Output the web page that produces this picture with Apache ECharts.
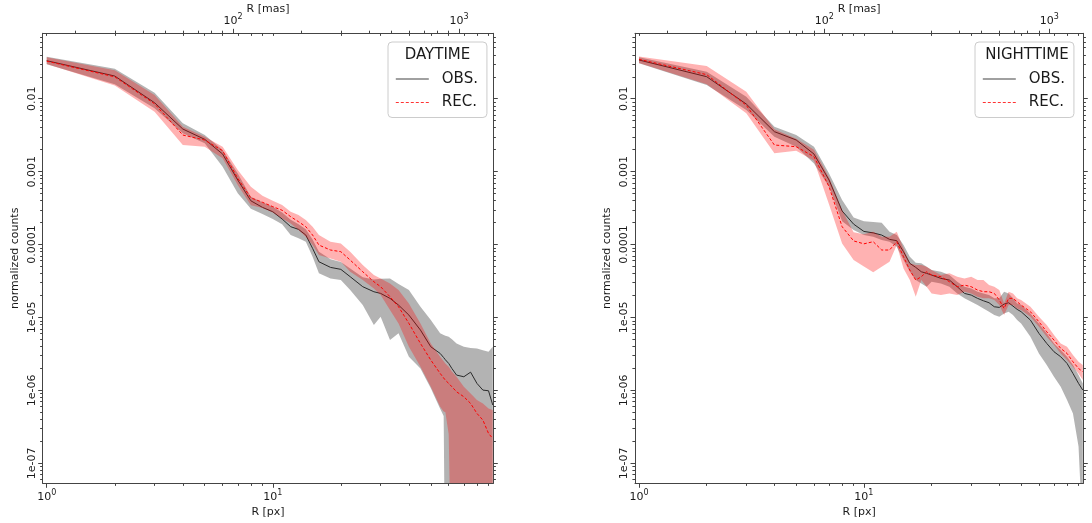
<!DOCTYPE html>
<html><head><meta charset="utf-8">
<script src="https://cdn.jsdelivr.net/npm/echarts@6/dist/echarts.min.js"></script>
<style>html,body{margin:0;padding:0;background:#fff}#c{width:1092px;height:523px}</style>
</head><body><div id="c"></div><script>
// ---------- DATA (values stored as log10 of normalized counts) ----------
const dayR = [1,2,3,4,5,6,7,8,9,10,11,12,13,14,15,16,18,20,22,25,28,30,33,36,40,45,50,55,57,58,60,62,65,70,75,80,85,90,94];
const dayObsLog = [-1.479,-1.689,-2.055,-2.416,-2.557,-2.759,-3.115,-3.40,-3.49,-3.55,-3.65,-3.755,-3.792,-3.87,-4.052,-4.236,-4.313,-4.340,-4.441,-4.578,-4.647,-4.670,-4.738,-4.830,-4.967,-5.173,-5.402,-5.493,-5.55,-5.58,-5.630,-5.70,-5.790,-5.813,-5.75,-5.904,-5.996,-6.005,-6.201];
const dayObsHiLog = [-1.424,-1.59,-1.918,-2.338,-2.498,-2.704,-3.024,-3.344,-3.42,-3.48,-3.56,-3.66,-3.72,-3.79,-3.93,-4.10,-4.20,-4.24,-4.33,-4.45,-4.48,-4.47,-4.464,-4.54,-4.624,-4.853,-5.036,-5.218,-5.24,-5.25,-5.265,-5.30,-5.356,-5.402,-5.42,-5.424,-5.45,-5.47,-5.40];
const dayObsLoLog = [-1.528,-1.80,-2.13,-2.475,-2.612,-2.933,-3.298,-3.51,-3.58,-3.65,-3.72,-3.87,-3.915,-3.961,-4.167,-4.395,-4.464,-4.487,-4.624,-4.830,-5.104,-4.990,-5.310,-5.218,-5.539,-5.70,-5.97,-6.25,-6.35,-9,-9,-9,-9,-9,-9,-9,-9,-9,-9];
const dayRecLog = [-1.485,-1.70,-2.07,-2.498,-2.567,-2.713,-3.092,-3.36,-3.42,-3.48,-3.53,-3.618,-3.687,-3.755,-3.870,-4.007,-4.075,-4.098,-4.213,-4.373,-4.510,-4.578,-4.716,-4.853,-5.081,-5.356,-5.584,-5.767,-5.83,-5.86,-5.904,-5.95,-6.019,-6.087,-6.179,-6.316,-6.407,-6.590,-6.659];
const dayRecHiLog = [-1.43,-1.61,-1.95,-2.384,-2.52,-2.658,-2.978,-3.207,-3.33,-3.40,-3.458,-3.55,-3.595,-3.664,-3.755,-3.870,-3.961,-3.984,-4.098,-4.281,-4.418,-4.464,-4.533,-4.624,-4.807,-5.081,-5.356,-5.539,-5.60,-5.63,-5.676,-5.74,-5.813,-5.950,-6.042,-6.133,-6.179,-6.247,-6.270];
const dayRecLoLog = [-1.525,-1.82,-2.178,-2.635,-2.658,-2.818,-3.184,-3.46,-3.50,-3.56,-3.641,-3.71,-3.801,-3.893,-4.007,-4.144,-4.190,-4.236,-4.373,-4.487,-4.601,-4.693,-4.898,-5.081,-5.402,-5.676,-5.950,-6.224,-6.29,-6.30,-6.60,-9,-9,-9,-9,-9,-9,-9,-9];

const nightR = [1,2,3,4,5,6,7,8,9,10,11,12,13,14,15,16,17,18,19,20,22,24,26,28,30,32,34,36,38,40,42,44,46,48,50,55,60,65,70,75,80,85,90,94];
const nightObsLog = [-1.469,-1.698,-2.073,-2.452,-2.566,-2.759,-3.115,-3.54,-3.72,-3.82,-3.84,-3.870,-3.929,-3.947,-4.098,-4.258,-4.313,-4.373,-4.395,-4.418,-4.464,-4.487,-4.578,-4.670,-4.693,-4.738,-4.771,-4.798,-4.853,-4.862,-4.816,-4.798,-4.844,-4.889,-4.921,-5.036,-5.218,-5.356,-5.470,-5.539,-5.630,-5.767,-5.904,-5.996];
const nightObsHiLog = [-1.432,-1.629,-1.972,-2.384,-2.498,-2.658,-3.024,-3.39,-3.63,-3.68,-3.69,-3.70,-3.824,-3.870,-4.007,-4.167,-4.249,-4.258,-4.304,-4.350,-4.373,-4.418,-4.510,-4.578,-4.601,-4.647,-4.670,-4.693,-4.738,-4.738,-4.647,-4.670,-4.738,-4.807,-4.830,-4.944,-5.081,-5.218,-5.356,-5.447,-5.539,-5.653,-5.790,-5.904];
const nightObsLoLog = [-1.515,-1.812,-2.155,-2.521,-2.658,-2.887,-3.207,-3.68,-3.80,-3.87,-3.893,-3.938,-3.961,-4.030,-4.213,-4.373,-4.487,-4.533,-4.578,-4.510,-4.533,-4.578,-4.670,-4.738,-4.784,-4.830,-4.876,-4.921,-4.967,-4.990,-4.944,-4.921,-4.967,-5.036,-5.081,-5.264,-5.493,-5.653,-5.813,-5.950,-6.133,-6.316,-6.77,-8];
const nightRecLog = [-1.46,-1.67,-2.09,-2.635,-2.658,-2.795,-3.207,-3.755,-3.95,-3.99,-3.961,-4.075,-4.075,-3.961,-4.167,-4.350,-4.487,-4.441,-4.373,-4.418,-4.441,-4.510,-4.578,-4.556,-4.578,-4.624,-4.647,-4.647,-4.670,-4.761,-4.876,-4.738,-4.738,-4.784,-4.830,-4.921,-5.059,-5.196,-5.310,-5.424,-5.493,-5.607,-5.699,-5.744];
const nightRecHiLog = [-1.42,-1.551,-1.903,-2.42,-2.55,-2.70,-3.08,-3.53,-3.83,-3.86,-3.824,-3.893,-3.893,-3.824,-4.053,-4.258,-4.281,-4.281,-4.304,-4.350,-4.418,-4.395,-4.441,-4.464,-4.441,-4.487,-4.487,-4.556,-4.578,-4.624,-4.807,-4.647,-4.670,-4.738,-4.761,-4.853,-4.990,-5.104,-5.241,-5.356,-5.402,-5.516,-5.607,-5.653];
const nightRecLoLog = [-1.51,-1.80,-2.201,-2.749,-2.713,-2.85,-3.45,-3.984,-4.213,-4.30,-4.38,-4.304,-4.236,-4.007,-4.327,-4.487,-4.716,-4.487,-4.578,-4.670,-4.693,-4.670,-4.693,-4.647,-4.670,-4.716,-4.738,-4.738,-4.761,-4.830,-4.967,-4.830,-4.830,-4.876,-4.898,-4.990,-5.127,-5.264,-5.379,-5.493,-5.584,-5.676,-5.767,-5.859];

const panelTitles = ['DAYTIME', 'NIGHTTIME'];
const legendNames = ['OBS.', 'REC.'];
const xMajor = [1, 10];
const xMinor = [2,3,4,5,6,7,8,9,20,30,40,50,60,70,80,90];
const masMajor = [100, 1000];
const masMinor = [20,30,40,50,60,70,80,90,200,300,400,500,600,700,800,900];
const yMajor = [1e-7, 1e-6, 1e-5, 1e-4, 1e-3, 1e-2];
const yTickLabels = ['1e-07', '1e-06', '1e-05', '0.0001', '0.001', '0.01'];
const MAS_PER_PX = 15;

// ---------- CHART ----------
const FONT = 'DejaVu Sans';
const TXT = '#1a1a1a';
const AX = '#444';
const XMIN = 0.96, XMAX = 94.5;
const YMIN = Math.pow(10, -7.274), YMAX = Math.pow(10, -1.103);
const yMinor = [];
for (let e = -8; e <= -2; e++) for (let m = 2; m <= 9; m++) {
  const v = m * Math.pow(10, e);
  if (v > YMIN && v < YMAX) yMinor.push(v);
}
const rows = (r, a) => r.map((x, i) => [x, Math.pow(10, a[i])]);
const expOf = v => Math.round(Math.log10(v));
const supRich = { b: { fontFamily: FONT, fontSize: 11, color: TXT }, s: { fontFamily: FONT, fontSize: 8, color: TXT, padding: [0, 0, 7, 0] } };
const supFmt = v => '{b|10}{s|' + expOf(v) + '}';
const lineS = { color: AX, width: 1 };

const grids = [
  { left: 42.7, top: 33.3, width: 450.6, height: 450, outerBoundsMode: 'none' },
  { left: 635, top: 33.3, width: 448.3, height: 450, outerBoundsMode: 'none' }
];
const xAxes = [], yAxes = [], series = [], legends = [], graphics = [];

function tickAxis(base, vals, len, extra) {
  return Object.assign({
    splitLine: { show: false }, minorTick: { show: false }, minorSplitLine: { show: false },
    axisLine: { show: false, onZero: false, lineStyle: lineS },
    axisTick: { show: true, customValues: vals, length: len, lineStyle: lineS },
    axisLabel: { show: false },
    nameMoveOverlap: false
  }, base, extra || {});
}

function band(gi, r, lo, hi, color, z) {
  return {
    type: 'custom', xAxisIndex: gi * 5, yAxisIndex: gi * 4, z: z, silent: true, clip: true,
    data: [[r[0], Math.pow(10, hi[0])]],
    renderItem: function (params, api) {
      const pts = [];
      for (let i = 0; i < r.length; i++) pts.push(api.coord([r[i], Math.pow(10, hi[i])]));
      for (let i = r.length - 1; i >= 0; i--) pts.push(api.coord([r[i], Math.pow(10, lo[i])]));
      const cs = params.coordSys;
      return {
        type: 'polygon', shape: { points: pts }, style: { fill: color },
        clipPath: { type: 'rect', shape: { x: cs.x, y: cs.y, width: cs.width, height: cs.height } }
      };
    }
  };
}

const panels = [
  { r: dayR, obs: dayObsLog, obsHi: dayObsHiLog, obsLo: dayObsLoLog, rec: dayRecLog, recHi: dayRecHiLog, recLo: dayRecLoLog, legLeft: 388, legRight: 487 },
  { r: nightR, obs: nightObsLog, obsHi: nightObsHiLog, obsLo: nightObsLoLog, rec: nightRecLog, recHi: nightRecHiLog, recLo: nightRecLoLog, legLeft: 975, legRight: 1079 }
];

panels.forEach((p, gi) => {
  const bx = { type: 'log', logBase: 10, gridIndex: gi, min: XMIN, max: XMAX };
  const bm = { type: 'log', logBase: 10, gridIndex: gi, min: XMIN * MAS_PER_PX, max: XMAX * MAS_PER_PX };
  // x axes: 0 bottom major, 1 bottom minor, 2 top mas major, 3 top mas minor, 4 top px mirror
  xAxes.push(tickAxis(Object.assign({ position: 'bottom' }, bx), xMajor, 4.5, {
    axisLine: { show: true, onZero: false, lineStyle: lineS },
    axisLabel: { show: true, customValues: xMajor, formatter: supFmt, rich: supRich, margin: 6 },
    name: 'R [px]', nameLocation: 'middle', nameGap: 23,
    nameTextStyle: { fontFamily: FONT, fontSize: 11, color: TXT }
  }));
  xAxes.push(tickAxis(Object.assign({ position: 'bottom' }, bx), xMinor, 2.6));
  xAxes.push(tickAxis(Object.assign({ position: 'top' }, bm), masMajor, 4.5, {
    axisLine: { show: true, onZero: false, lineStyle: lineS },
    axisLabel: { show: true, customValues: masMajor, formatter: supFmt, rich: supRich, margin: 5 },
    name: 'R [mas]', nameLocation: 'middle', nameGap: 19,
    nameTextStyle: { fontFamily: FONT, fontSize: 11, color: TXT }
  }));
  xAxes.push(tickAxis(Object.assign({ position: 'top' }, bm), masMinor, 2.6));
  const pxTop = tickAxis(Object.assign({ position: 'top' }, bx), xMajor.concat(xMinor), 2.6);
  pxTop.axisTick.inside = true;
  xAxes.push(pxTop);

  const by = { type: 'log', logBase: 10, gridIndex: gi, min: YMIN, max: YMAX };
  yAxes.push(tickAxis(Object.assign({ position: 'left' }, by), yMajor, 4.5, {
    axisLine: { show: true, onZero: false, lineStyle: lineS },
    axisLabel: {
      show: true, customValues: yMajor, rotate: 90, margin: 5,
      fontFamily: FONT, fontSize: 11, color: TXT,
      formatter: v => yTickLabels[yMajor.findIndex(m => expOf(m) === expOf(v))]
    },
    name: 'normalized counts', nameLocation: 'middle', nameGap: 22, nameRotate: 90,
    nameTextStyle: { fontFamily: FONT, fontSize: 11, color: TXT }
  }));
  yAxes.push(tickAxis(Object.assign({ position: 'left' }, by), yMinor, 2.6));
  yAxes.push(tickAxis(Object.assign({ position: 'right' }, by), yMajor, 4.5, {
    axisLine: { show: true, onZero: false, lineStyle: lineS }
  }));
  yAxes.push(tickAxis(Object.assign({ position: 'right' }, by), yMinor, 2.6));

  series.push(band(gi, p.r, p.obsLo, p.obsHi, 'rgba(128,128,128,0.6)', 1));
  series.push({
    type: 'line', name: legendNames[0], xAxisIndex: gi * 5, yAxisIndex: gi * 4, data: rows(p.r, p.obs),
    symbol: 'none', z: 2, silent: true, color: '#808080',
    lineStyle: { color: '#2a2a2a', width: 1 }
  });
  series.push(band(gi, p.r, p.recLo, p.recHi, 'rgba(255,0,0,0.3)', 3));
  series.push({
    type: 'line', name: legendNames[1], xAxisIndex: gi * 5, yAxisIndex: gi * 4, data: rows(p.r, p.rec),
    symbol: 'none', z: 4, silent: true, color: '#ff0000',
    lineStyle: { color: '#ff0000', width: 1, type: [3, 2] }
  });

  legends.push({
    left: p.legLeft, top: 42, orient: 'vertical', selectedMode: false,
    padding: [28, 9, 6, 7], itemWidth: 33, itemHeight: 14, itemGap: 5.5,
    backgroundColor: 'rgba(255,255,255,0.8)', borderColor: '#cccccc', borderWidth: 1, borderRadius: 4,
    textStyle: { fontFamily: FONT, fontSize: 15, color: TXT, lineHeight: 18, padding: [0, 0, 0, 8] },
    z: 5,
    data: [
      { name: legendNames[0], lineStyle: { color: '#808080', width: 1.6, type: 'solid' }, itemStyle: { opacity: 0, color: 'rgba(0,0,0,0)' } },
      { name: legendNames[1], lineStyle: { color: '#ff3333', width: 1, type: [3, 2] }, itemStyle: { opacity: 0, color: 'rgba(0,0,0,0)' } }
    ]
  });
  graphics.push({
    type: 'text', z: 100, x: (p.legLeft + p.legRight) / 2, y: 55,
    style: { text: panelTitles[gi], fontFamily: FONT, fontSize: 15, fill: TXT, textAlign: 'center', textVerticalAlign: 'middle' }
  });
});

const chart = echarts.init(document.getElementById('c'), null, { renderer: 'canvas' });
chart.setOption({
  animation: false,
  backgroundColor: '#ffffff',
  grid: grids,
  xAxis: xAxes,
  yAxis: yAxes,
  legend: legends,
  graphic: graphics,
  series: series
});
</script></body></html>
